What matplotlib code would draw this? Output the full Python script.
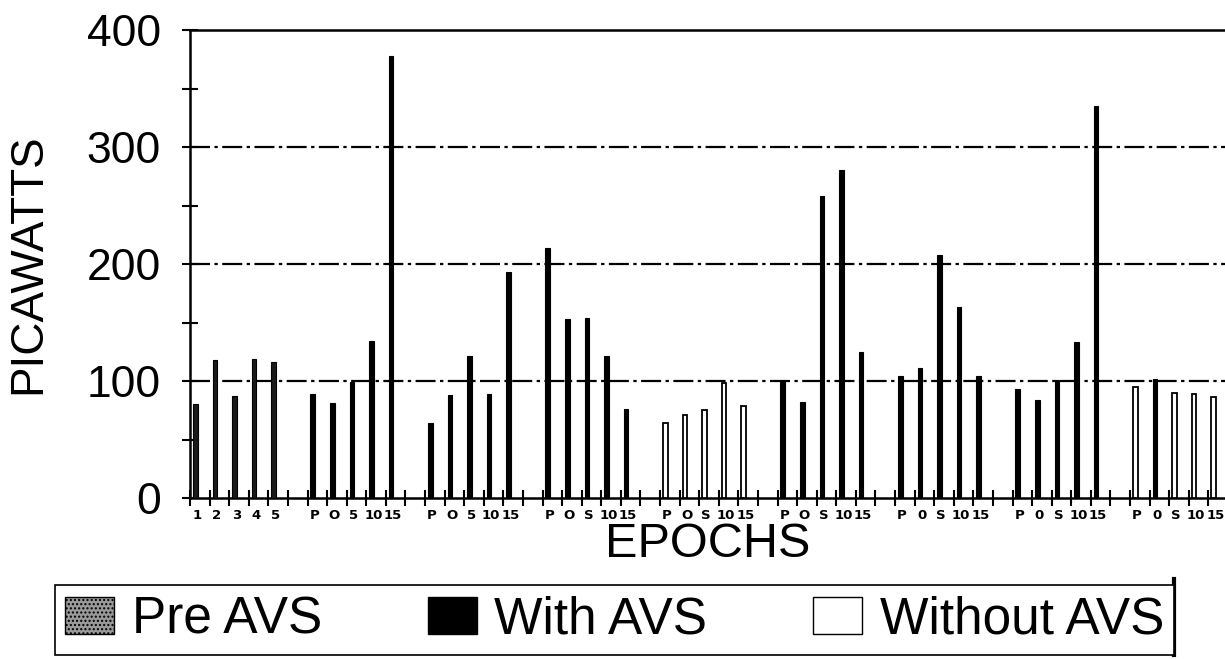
import numpy as np
import matplotlib.pyplot as plt
from matplotlib.patches import Patch
from matplotlib.lines import Line2D

plt.rcParams['font.family'] = ['Liberation Sans', 'DejaVu Sans']

# labels under each bar, one list per group of epochs
group_labels = [
    ['1', '2', '3', '4', '5'],
    ['P', 'O', '5', '10', '15'],
    ['P', 'O', '5', '10', '15'],
    ['P', 'O', 'S', '10', '15'],
    ['P', 'O', 'S', '10', '15'],
    ['P', 'O', 'S', '10', '15'],
    ['P', '0', 'S', '10', '15'],
    ['P', '0', 'S', '10', '15'],
    ['P', '0', 'S', '10', '15'],
]

# picawatts
values = [
    [80, 118, 87, 119, 116],
    [89, 81, 99, 134, 378],
    [64, 88, 121, 89, 193],
    [214, 153, 154, 121, 76],
    [64, 71, 75, 98, 79],
    [99, 82, 258, 280, 125],
    [104, 111, 208, 163, 104],
    [93, 84, 101, 133, 335],
    [95, 102, 90, 89, 86],
]

kinds = [
    ['pre'] * 5,
    ['with'] * 5,
    ['with'] * 5,
    ['with'] * 5,
    ['without'] * 5,
    ['with'] * 5,
    ['with'] * 5,
    ['with'] * 5,
    ['without', 'with', 'without', 'without', 'without'],
]

legend_names = {'pre': 'Pre AVS', 'with': 'With AVS', 'without': 'Without AVS'}
styles = {
    'pre': dict(color='#1a1a1a', edgecolor='black', linewidth=0.8),
    'with': dict(color='black', edgecolor='black', linewidth=0.8),
    'without': dict(color='white', edgecolor='black', linewidth=1.3),
}

slots_per_group = 6
bar_w = 0.24

fig = plt.figure(figsize=(12.25, 6.59), dpi=100)
ax = fig.add_axes([190 / 1225, 161 / 659, 1 - 190 / 1225, 468 / 659])

label_pos = []
label_txt = []
for g, (vals, kds, labs) in enumerate(zip(values, kinds, group_labels)):
    for j, (v, k, lab) in enumerate(zip(vals, kds, labs)):
        slot = g * slots_per_group + j
        ax.bar(slot + 0.27, v, width=bar_w, zorder=3, **styles[k])
        label_pos.append(slot + 0.36)
        label_txt.append(lab)

n_slots = len(values) * slots_per_group

# slot boundary ticks (no labels) and labels under the bars (no tick marks)
ax.set_xticks(np.arange(0, n_slots + 1))
ax.set_xticklabels([])
ax.set_xticks(label_pos, minor=True)
ax.set_xticklabels(label_txt, minor=True, fontsize=9.5, fontweight='bold',
                   family='DejaVu Sans')
ax.tick_params(axis='x', which='major', direction='inout', length=12, width=1.5)
ax.tick_params(axis='x', which='minor', length=0, pad=8)

ax.set_yticks([0, 100, 200, 300, 400])
ax.set_yticklabels(['0', '100', '200', '300', '400'], fontsize=32)
ax.set_yticks(np.arange(50, 400, 100), minor=True)
ax.tick_params(axis='y', which='both', direction='inout', length=12, width=1.5, pad=15)

# the original is cut at the right edge, just after the last bar
ax.set_xlim(0, 52.85)
ax.set_ylim(0, 400)

for y in [100, 200, 300]:
    ax.axhline(y, color='black', linewidth=1.6, dashes=(9, 2, 1.5, 2), zorder=2)

for side in ['left', 'bottom', 'top']:
    ax.spines[side].set_linewidth(1.8)
ax.spines['right'].set_visible(False)

ax.set_ylabel('PICAWATTS', fontsize=33, labelpad=26)
ax.set_xlabel('EPOCHS', fontsize=35, labelpad=0)

handles = [
    Patch(facecolor='#9a9a9a', edgecolor='black', hatch='....', linewidth=1.0),
    Patch(facecolor='black', edgecolor='black'),
    Patch(facecolor='white', edgecolor='black', linewidth=1.0),
]
leg = fig.legend(handles, [legend_names[k] for k in ['pre', 'with', 'without']],
                 loc='lower left', bbox_to_anchor=(55 / 1225, 4 / 659),
                 ncol=3, fontsize=37, handlelength=0.95, handleheight=0.72,
                 handletextpad=0.35, columnspacing=2.05, borderpad=0.2,
                 borderaxespad=0, fancybox=False, edgecolor='black', framealpha=1)
leg.get_frame().set_linewidth(1.2)

fig.canvas.draw()
bb = leg.get_window_extent()
x_r = bb.x1 / 1225
fig.add_artist(Line2D([x_r, x_r], [bb.y0 / 659, (bb.y1 + 6) / 659], color='black',
                      linewidth=3, transform=fig.transFigure))

fig.savefig('out.png', dpi=100)
